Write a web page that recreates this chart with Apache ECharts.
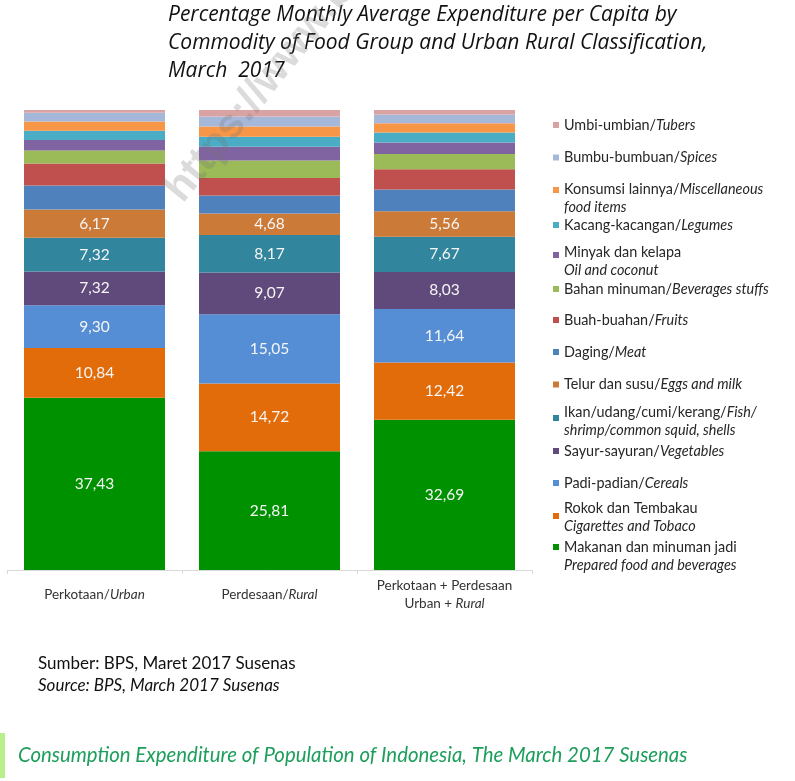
<!DOCTYPE html>
<html><head><meta charset="utf-8">
<script src="https://cdn.jsdelivr.net/npm/echarts@6/dist/echarts.min.js"></script>
<style>html,body{margin:0;padding:0;background:#fff}#c{width:795px;height:781px}</style>
</head><body><div id="c"></div>
<script>
// Categories (x axis)
const categories = ['Perkotaan/Urban', 'Perdesaan/Rural', 'Perkotaan + Perdesaan/Urban + Rural'];
const categoryLabels = ['{n|Perkotaan/}{i|Urban}', '{n|Perdesaan/}{i|Rural}', '{n|Perkotaan + Perdesaan}\n{n|Urban + }{i|Rural}'];

// Series values (percent), bottom to top of each stack
const prepared   = [37.43, 25.81, 32.69];
const cigarettes = [10.84, 14.72, 12.42];
const cereals    = [9.30, 15.05, 11.64];
const vegetables = [7.32, 9.07, 8.03];
const fish       = [7.32, 8.17, 7.67];
const eggsMilk   = [6.17, 4.68, 5.56];
const meat       = [5.2, 3.9, 4.7];
const fruits     = [4.8, 3.8, 4.4];
const beverages  = [2.8, 3.8, 3.3];
const oil        = [2.3, 3.0, 2.5];
const legumes    = [2.0, 2.2, 2.2];
const misc       = [2.0, 2.2, 2.0];
const spices     = [1.9, 2.2, 1.9];
const tubers     = [0.6, 1.4, 1.0];

// Series names (bottom to top)
const seriesNames = [
  'Makanan dan minuman jadi/Prepared food and beverages',
  'Rokok dan Tembakau/Cigarettes and Tobaco',
  'Padi-padian/Cereals',
  'Sayur-sayuran/Vegetables',
  'Ikan/udang/cumi/kerang/Fish/shrimp/common squid, shells',
  'Telur dan susu/Eggs and milk',
  'Daging/Meat',
  'Buah-buahan/Fruits',
  'Bahan minuman/Beverages stuffs',
  'Minyak dan kelapa/Oil and coconut',
  'Kacang-kacangan/Legumes',
  'Konsumsi lainnya/Miscellaneous food items',
  'Bumbu-bumbuan/Spices',
  'Umbi-umbian/Tubers'
];
const seriesValues = [prepared, cigarettes, cereals, vegetables, fish, eggsMilk, meat, fruits, beverages, oil, legumes, misc, spices, tubers];
const labeledSeries = 6; // the bottom six carry value labels

// Legend texts (same order as seriesNames)
const legendTexts = [
  '{n|Makanan dan minuman jadi}\n{i|Prepared food and beverages}',
  '{n|Rokok dan Tembakau}\n{i|Cigarettes and Tobaco}',
  '{n|Padi-padian/}{i|Cereals}',
  '{n|Sayur-sayuran/}{i|Vegetables}',
  '{n|Ikan/udang/cumi/kerang/}{i|Fish/}\n{i|shrimp/common squid, shells}',
  '{n|Telur dan susu/}{i|Eggs and milk}',
  '{n|Daging/}{i|Meat}',
  '{n|Buah-buahan/}{i|Fruits}',
  '{n|Bahan minuman/}{i|Beverages stuffs}',
  '{n|Minyak dan kelapa}\n{i|Oil and coconut}',
  '{n|Kacang-kacangan/}{i|Legumes}',
  '{n|Konsumsi lainnya/}{i|Miscellaneous}\n{i|food items}',
  '{n|Bumbu-bumbuan/}{i|Spices}',
  '{n|Umbi-umbian/}{i|Tubers}'
];

// Colours (same order)
const colors = ['#009100', '#E36C0A', '#558ED5', '#604A7B', '#31859C', '#CC7A37', '#4F81BD', '#C0504D', '#9BBB59', '#8064A2', '#4BACC6', '#F79646', '#A6B8DA', '#D9A3A3'];

// Legend layout: [top, paddingTop]
const legendLayout = [
  [520, 18], [497, 2], [474, 0], [442, 0], [397, 6], [375.5, 0], [343, 0],
  [311, 0], [280, 0], [231, 12], [216, 0], [164, 16], [148.5, 0], [116, 0]
];

const FONT = 'Lato, "Noto Sans", sans-serif';
const chart = echarts.init(document.getElementById('c'), null, {renderer: 'canvas'});

const series = seriesNames.map((name, k) => ({
  name: name,
  type: 'bar',
  stack: 'total',
  barWidth: 141,
  data: seriesValues[k],
  itemStyle: {color: colors[k]},
  label: {
    show: k < labeledSeries,
    position: 'inside',
    color: '#F5F5F5',
    fontFamily: FONT,
    fontSize: 15.5,
    formatter: p => p.value.toFixed(2).replace('.', ',')
  }
}));

const richLegend = {
  n: {fontFamily: FONT, fontSize: 14.4, color: '#262626', lineHeight: 18},
  i: {fontFamily: FONT, fontSize: 14.4, color: '#262626', lineHeight: 18, fontStyle: 'italic'}
};

const legends = seriesNames.map((name, k) => ({
  data: [name],
  left: 553,
  top: legendLayout[k][0],
  padding: 0,
  itemWidth: 6,
  itemHeight: 6,
  itemGap: 0,
  itemTextGap: 15,
  selectedMode: false,
  icon: 'rect',
  formatter: () => legendTexts[k],
  textStyle: {padding: [legendLayout[k][1], 0, 0, 0], rich: richLegend, lineHeight: 18}
}));

chart.setOption({
  animation: false,
  backgroundColor: '#ffffff',
  title: [
    {
      text: 'Percentage Monthly Average Expenditure per Capita by\nCommodity of Food Group and Urban Rural Classification,\nMarch  2017',
      left: 168, top: 1, padding: 0,
      textStyle: {fontFamily: '"Open Sans", Lato, sans-serif', fontStyle: 'italic', fontWeight: 'normal', fontSize: 21, lineHeight: 28, color: '#111'}
    },
    {
      text: '{a|Sumber: BPS, Maret 2017 Susenas}\n{b|Source: BPS, March 2017 Susenas}',
      left: 38, top: 653, padding: 0,
      textStyle: {fontWeight: 'normal', rich: {
        a: {fontFamily: FONT, fontSize: 17, fontWeight: 'normal', lineHeight: 22, color: '#111'},
        b: {fontFamily: FONT, fontSize: 17, fontWeight: 'normal', lineHeight: 22, color: '#111', fontStyle: 'italic'}
      }}
    },
    {
      text: 'Consumption Expenditure of Population of Indonesia, The March 2017 Susenas',
      left: 18, top: 742, padding: 0,
      textStyle: {fontFamily: FONT, fontStyle: 'italic', fontWeight: 'normal', fontSize: 20.4, lineHeight: 26, color: '#1E9E5C'}
    }
  ],
  legend: legends,
  grid: {left: 7, right: 263, top: 110, bottom: 211, containLabel: false},
  xAxis: {
    type: 'category',
    data: categories,
    axisLine: {lineStyle: {color: '#D9D9D9', width: 1}},
    axisTick: {show: true, length: 4, lineStyle: {color: '#D9D9D9'}},
    axisLabel: {
      interval: 0,
      margin: 25,
      verticalAlign: 'middle',
      formatter: (v, i) => categoryLabels[i],
      rich: {
        n: {fontFamily: FONT, fontSize: 13.5, color: '#333', lineHeight: 18},
        i: {fontFamily: FONT, fontSize: 13.5, color: '#333', lineHeight: 18, fontStyle: 'italic'}
      }
    }
  },
  yAxis: {type: 'value', min: 0, max: 100, show: false, splitLine: {show: false}},
  series: series,
  graphic: [
    {type: 'rect', shape: {x: 0, y: 733, width: 5, height: 45}, style: {fill: '#B6EF8C'}},
    {
      type: 'text', x: 190, y: 210, rotation: 0.89, z: 100,
      style: {text: 'https://www.bps.go.id', fontSize: 42, fontWeight: 'bold', fontFamily: 'Arial, sans-serif',
              fill: 'rgba(110,110,110,0.25)', verticalAlign: 'bottom', textVerticalAlign: 'bottom'}
    }
  ]
});
</script></body></html>
